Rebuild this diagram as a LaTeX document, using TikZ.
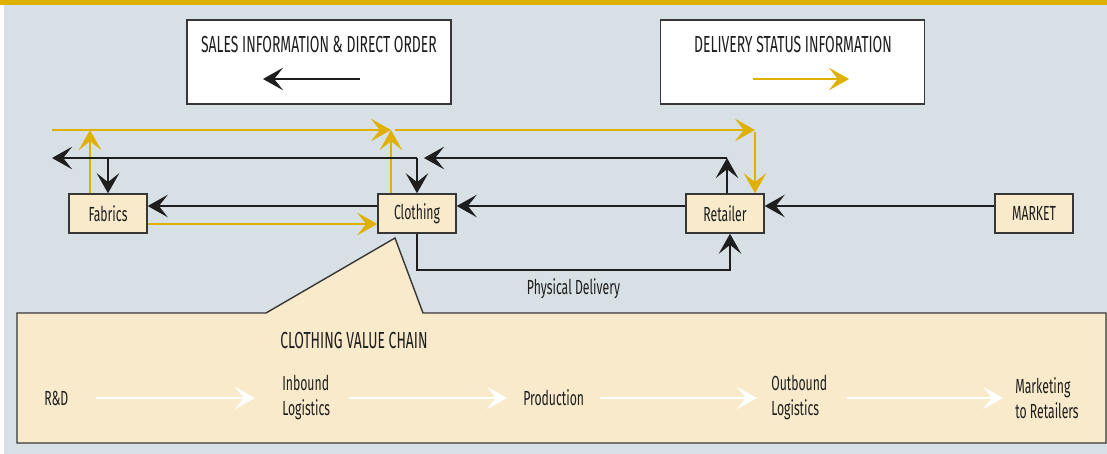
\documentclass[tikz,border=0pt]{standalone}
\usepackage{fontspec}
\setmainfont{Fira Sans}[FakeStretch=0.6]
\usetikzlibrary{arrows.meta}
\definecolor{infogold}{RGB}{224,176,0}
\definecolor{panelbg}{RGB}{215,224,229}
\definecolor{boxtan}{RGB}{248,234,203}
\definecolor{rulegray}{RGB}{55,55,55}
\definecolor{inkblack}{RGB}{30,30,30}

\begin{document}
\begin{tikzpicture}[x=0.025cm, y=-0.025cm,
    stage/.style={rectangle, draw=rulegray, line width=1pt, fill=boxtan, minimum width=1.95cm, minimum height=0.975cm, inner sep=0pt, font=\fontsize{14.5}{17}\selectfont, text=inkblack},
    legend/.style={rectangle, draw=rulegray, line width=1pt, fill=white, minimum width=6.6cm, minimum height=2.1cm},
    title/.style={font=\fontsize{16.5}{19}\selectfont, text=inkblack, inner sep=0pt},
    chainstep/.style={font=\fontsize{14.5}{17.8}\selectfont, text=inkblack, align=left, inner sep=0pt, anchor=west},
    order/.style={-{Stealth[length=0.5cm, width=0.56cm, inset=0.22cm]}, line width=2.1pt, inkblack},
    status/.style={-{Stealth[length=0.5cm, width=0.56cm, inset=0.22cm]}, line width=1.8pt, infogold},
    chain/.style={-{Stealth[length=0.5cm, width=0.56cm, inset=0.22cm]}, line width=2.1pt, white},
]
\useasboundingbox (0,0) rectangle (1107,454);
% Background and top rule
\fill[panelbg] (4,5) rectangle (1107,454);
\fill[infogold] (0,0) rectangle (1107,4.5);

% Legend boxes
\node[legend] (saleskey) at (319,62) {};
\node[title] (salestitle) at (319,45) {SALES INFORMATION \& DIRECT ORDER};
\coordinate (sk1) at (360,79);
\coordinate (sk2) at (263,79);
\draw[order] (sk1) -- (sk2);

\node[legend] (statuskey) at (792.5,62) {};
\node[title] (statustitle) at (793,45) {DELIVERY STATUS INFORMATION};
\coordinate (dk1) at (753,79);
\coordinate (dk2) at (849,79);
\draw[status] (dk1) -- (dk2);

% Supply chain stages
\node[stage] (fabrics) at (108,213.5) {Fabrics};
\node[stage] (clothing) at (417,213.5) {Clothing};
\node[stage] (retailer) at (725,213.5) {Retailer};
\node[stage] (market) at (1034,213.5) {MARKET};

% Value chain panel
\draw[rulegray, line width=1pt, fill=boxtan] (17,313) -- (266,313) -- (395,238) -- (423,313) -- (1106,313) -- (1106,443) -- (17,443) -- cycle;
\node[title, anchor=west] (chaintitle) at (280,341) {CLOTHING VALUE CHAIN};
\node[chainstep] (rd) at (44,398) {R\&D};
\node[chainstep] (inbound) at (282,398) {Inbound\\Logistics};
\node[chainstep] (production) at (523,398) {Production};
\node[chainstep] (outbound) at (771,398) {Outbound\\Logistics};
\node[chainstep] (marketing) at (1015,398) {Marketing\\to Retailers};
\draw[chain, shorten <=0.675cm, shorten >=0.675cm] (rd.east) -- (inbound.west);
\draw[chain, shorten <=0.475cm, shorten >=0.4cm] (inbound.east) -- (production.west);
\draw[chain, shorten <=0.4cm, shorten >=0.35cm] (production.east) -- (outbound.west);
\draw[chain, shorten <=0.475cm, shorten >=0.3cm] (outbound.east) -- (marketing.west);

% Delivery status information (gold)
\coordinate (gl) at (52,130);
\coordinate (gj) at (391,130);
\coordinate (gr) at (755,130);
\coordinate (gf) at (90,130);
\coordinate (grow) at (0,224);
\draw[status] (gl) -- (gj);
\draw[status] ([xshift=0.1cm]gj) -- (gr);
\draw[status] ([yshift=-0.05cm]gr) -- (retailer.north -| gr);
\draw[status] (fabrics.north -| gf) -- (gf);
\draw[status] (clothing.north -| gj) -- (gj);
\draw[status] (fabrics.east |- grow) -- (clothing.west |- grow);

% Sales information and direct order (black)
\coordinate (bl) at (52,158);
\coordinate (bj) at (424,158);
\coordinate (br) at (727,158);
\coordinate (brow) at (0,206);
\draw[order] (retailer.north -| br) -- (br);
\draw[order] (br) -- (bj);
\draw[order] (clothing.north |- bj) -- (bl);
\draw[order] (clothing.north |- bj) -- (clothing.north);
\draw[order] (fabrics.north |- bj) -- (fabrics.north);
\draw[order] (market.west |- brow) -- (retailer.east |- brow);
\draw[order] (retailer.west |- brow) -- (clothing.east |- brow);
\draw[order] (clothing.west |- brow) -- (fabrics.east |- brow);

% Physical delivery
\coordinate (pd1) at (417,270);
\coordinate (pd2) at (730,270);
\draw[order] (clothing.south) -- (pd1) -- node[below=0.17cm, chainstep, anchor=north] (pdlabel) {Physical Delivery} (pd2) -- (retailer.south -| pd2);

\end{tikzpicture}
\end{document}
